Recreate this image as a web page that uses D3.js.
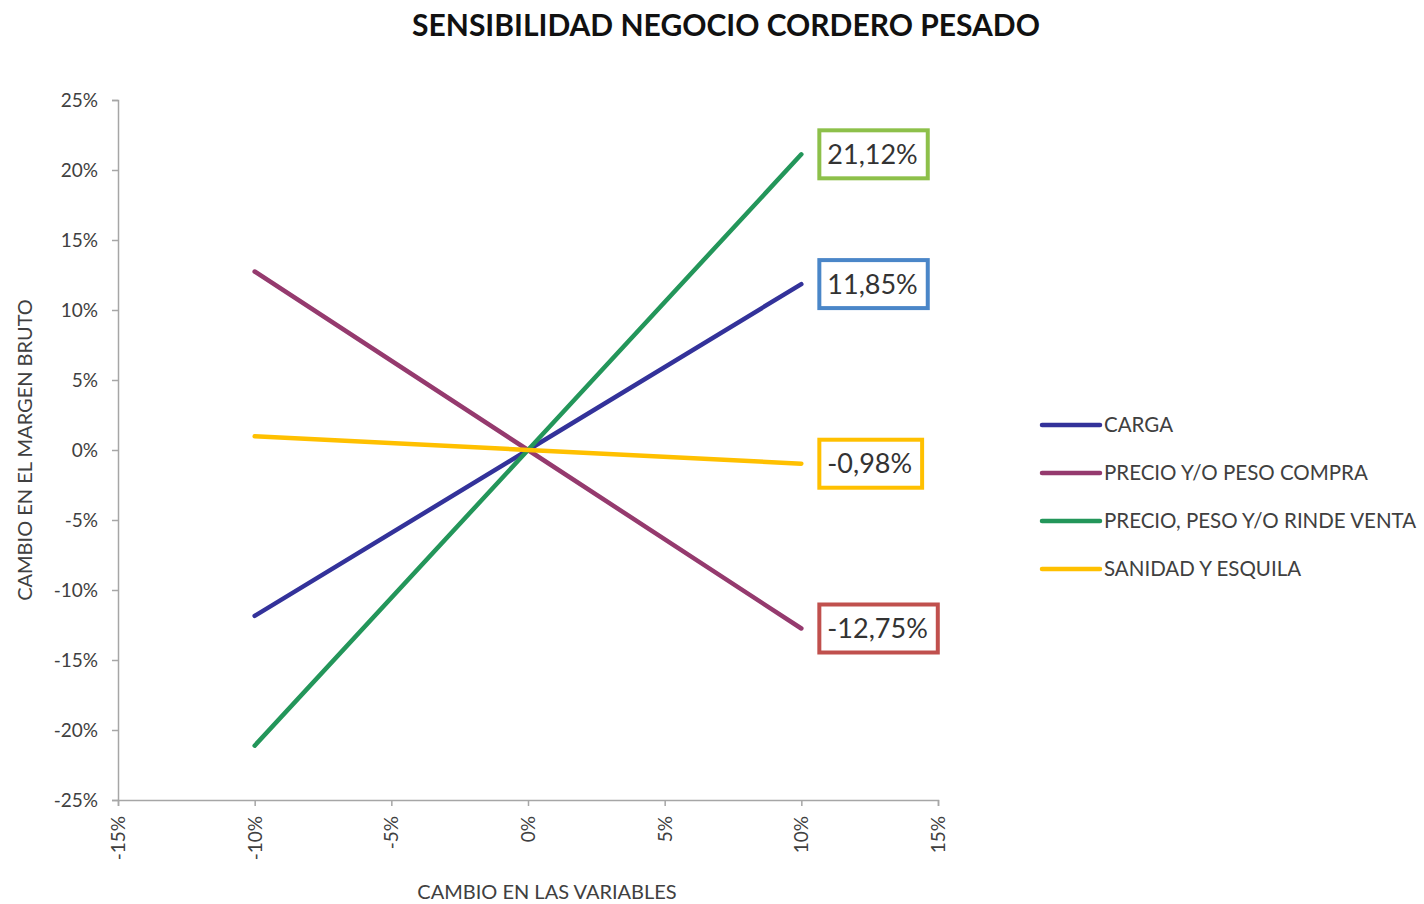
<!DOCTYPE html>
<html>
<head>
<meta charset="utf-8">
<script src="https://cdn.jsdelivr.net/npm/d3@7"></script>
<style>
  body { margin: 0; background: #fff; }
  text { font-family: Lato, "Open Sans", sans-serif; fill: #404040; }
</style>
</head>
<body>
<svg width="1424" height="904"></svg>
<script>
// datos
var xValues = [-0.10, 0, 0.10];
var seriesNames = ["CARGA", "PRECIO Y/O PESO COMPRA", "PRECIO, PESO Y/O RINDE VENTA", "SANIDAD Y ESQUILA"];
var cargaValues = [-0.1185, 0, 0.1185];
var compraValues = [0.1275, 0, -0.1275];
var ventaValues = [-0.2112, 0, 0.2112];
var sanidadValues = [0.0098, 0, -0.0098];
var seriesColors = ["#33329a", "#953a6e", "#23965a", "#ffc000"];
var endLabels = ["11,85%", "-12,75%", "21,12%", "-0,98%"];
var labelBorders = ["#4a86c8", "#c0504d", "#8dc04a", "#ffc000"];
var xTicks = [-0.15, -0.10, -0.05, 0, 0.05, 0.10, 0.15];
var yTicks = [0.25, 0.20, 0.15, 0.10, 0.05, 0, -0.05, -0.10, -0.15, -0.20, -0.25];

var allSeries = [cargaValues, compraValues, ventaValues, sanidadValues];

var svg = d3.select("svg");

var x = d3.scaleLinear().domain([-0.15, 0.15]).range([118, 938]);
var y = d3.scaleLinear().domain([-0.25, 0.25]).range([800, 100]);
var pct = function(d) { return Math.round(d * 100) + "%"; };

// titulo
svg.append("text").attr("x", 726).attr("y", 36).attr("text-anchor", "middle")
  .attr("font-size", 30).attr("font-weight", "bold").style("fill", "#111")
  .text("SENSIBILIDAD NEGOCIO CORDERO PESADO");

// ejes
var yAxis = svg.append("g").attr("transform", "translate(118,0)")
  .call(d3.axisLeft(y).tickValues(yTicks).tickFormat(pct).tickSize(6).tickPadding(14));
var xAxis = svg.append("g").attr("transform", "translate(0,800)")
  .call(d3.axisBottom(x).tickValues(xTicks).tickFormat(pct).tickSize(6));

svg.selectAll(".domain, .tick line").attr("stroke", "#a6a6a6").attr("stroke-width", 1.5);
yAxis.selectAll("text").attr("font-size", 19).style("fill", "#404040").attr("font-family", "Lato, sans-serif");
xAxis.selectAll("text").attr("font-size", 19).style("fill", "#404040").attr("font-family", "Lato, sans-serif")
  .attr("transform", "rotate(-90)").attr("text-anchor", "end").attr("x", -16).attr("y", 0).attr("dy", "0.35em");

// titulos de ejes
svg.append("text").attr("transform", "translate(32,450) rotate(-90)").attr("text-anchor", "middle")
  .attr("font-size", 20).text("CAMBIO EN EL MARGEN BRUTO");
svg.append("text").attr("x", 547).attr("y", 899).attr("text-anchor", "middle")
  .attr("font-size", 20).text("CAMBIO EN LAS VARIABLES");

// lineas
var line = d3.line().x(function(d, i) { return x(xValues[i]); }).y(function(d) { return y(d); });
allSeries.forEach(function(s, i) {
  svg.append("path").datum(s).attr("d", line).attr("fill", "none")
    .attr("stroke", seriesColors[i]).attr("stroke-width", 4.5).attr("stroke-linecap", "round");
});

// etiquetas al final
allSeries.forEach(function(s, i) {
  var g = svg.append("g");
  var t = g.append("text").attr("x", x(0.10) + 26).attr("y", y(s[2])).attr("dy", "0.35em")
    .attr("font-size", 27).style("fill", "#333").text(endLabels[i]);
  var bb = t.node().getBBox();
  g.insert("rect", "text").attr("x", bb.x - 8).attr("y", y(s[2]) - 24)
    .attr("width", bb.width + 18).attr("height", 48)
    .attr("fill", "#fff").attr("stroke", labelBorders[i]).attr("stroke-width", 4);
});

// leyenda
seriesNames.forEach(function(name, i) {
  var ly = 425 + i * 48;
  svg.append("line").attr("x1", 1042).attr("x2", 1100).attr("y1", ly).attr("y2", ly)
    .attr("stroke", seriesColors[i]).attr("stroke-width", 4.5).attr("stroke-linecap", "round");
  svg.append("text").attr("x", 1104).attr("y", ly).attr("dy", "0.35em")
    .attr("font-size", 20.5).text(name);
});
</script>
</body>
</html>
